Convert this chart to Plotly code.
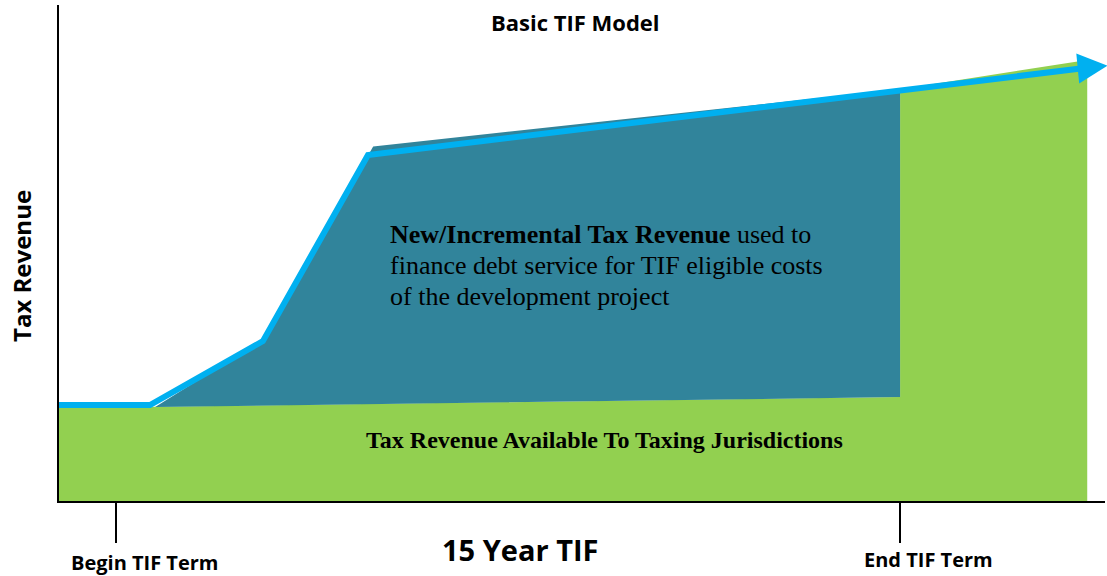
import plotly.graph_objects as go

# ---- data (x in years of TIF term, y in relative tax revenue units) ----
green_x = [-1.09, 15.0, 15.0, 18.58, 18.58, -1.09]
green_y = [19.8, 22.1, 87.6, 93.8, 0.0, 0.0]

teal_x = [0.75, 2.81, 4.92, 15.0, 15.0, 0.75]
teal_y = [20.0, 34.3, 75.4, 87.6, 22.1, 20.0]

line_x = [-1.09, 0.65, 2.81, 4.82, 18.69]
line_y = [20.4, 20.4, 34.0, 73.6, 92.3]

arrow_tip = (18.97, 92.6)

tick_years = [0, 15]
tick_names = ["Begin TIF Term", "End TIF Term"]

GREEN = "#92D050"
TEAL = "#31849B"
BLUE = "#00B0F0"
SANS = "Open Sans, Lato, sans-serif"
SERIF = "Liberation Serif, Times New Roman, serif"

fig = go.Figure()
fig.add_trace(go.Scatter(x=green_x, y=green_y, fill="toself", fillcolor=GREEN,
                         mode="lines", line=dict(width=0, color=GREEN),
                         hoverinfo="skip", showlegend=False))
fig.add_trace(go.Scatter(x=teal_x, y=teal_y, fill="toself", fillcolor=TEAL,
                         mode="lines", line=dict(width=0, color=TEAL),
                         hoverinfo="skip", showlegend=False))
fig.add_trace(go.Scatter(x=line_x, y=line_y, mode="lines",
                         line=dict(width=6, color=BLUE), cliponaxis=False,
                         hoverinfo="skip", showlegend=False))

fig.add_annotation(x=arrow_tip[0], y=arrow_tip[1], ax=line_x[-1], ay=line_y[-1],
                   xref="x", yref="y", axref="x", ayref="y", text="",
                   showarrow=True, arrowhead=2, arrowsize=1.0, arrowwidth=6,
                   arrowcolor=BLUE, standoff=0)


def px_x(px):
    return (px - 59) / 1046.0


def px_y(py):
    return (501 - py) / 496.0


def label(text, cx, cy, size, angle=0):
    fig.add_annotation(x=px_x(cx), y=px_y(cy), xref="paper", yref="paper",
                       xanchor="center", yanchor="middle", textangle=angle,
                       text="<b>" + text + "</b>", showarrow=False,
                       font=dict(family=SANS, size=size, color="black"))


label(tick_names[0], 145, 562, 20)
label(tick_names[1], 928, 559, 20)
label("15 Year TIF", 520, 549, 29)
label("Tax Revenue", 22, 266, 24, angle=-90)
label("Basic TIF Model", 575, 22, 22)

# body text
body_lines = ["<b>New/Incremental Tax Revenue</b> used to",
              "finance debt service for TIF eligible costs",
              "of the development project"]
for i, t in enumerate(body_lines):
    fig.add_annotation(x=px_x(388), y=px_y(234 + 31 * i), xref="paper", yref="paper",
                       text=t, showarrow=False, xanchor="left", yanchor="middle",
                       font=dict(family=SERIF, size=26, color="black"))

fig.add_annotation(x=px_x(604), y=px_y(440), xref="paper", yref="paper",
                   xanchor="center", yanchor="middle",
                   text="<b>Tax Revenue Available To Taxing Jurisdictions</b>",
                   showarrow=False,
                   font=dict(family=SERIF, size=24, color="black"))

fig.update_xaxes(range=[-1.09, 18.92], showline=True, linecolor="black", linewidth=2,
                 showgrid=False, zeroline=False, tickvals=tick_years, ticks="outside",
                 ticklen=40, tickwidth=2, tickcolor="black", showticklabels=False)
fig.update_yaxes(range=[0, 105.5], showline=True, linecolor="black", linewidth=2,
                 showgrid=False, zeroline=False, ticks="", showticklabels=False)

fig.update_layout(width=1107, height=576, margin=dict(l=59, r=2, t=5, b=75),
                  plot_bgcolor="white", paper_bgcolor="white")

fig.write_html("out.html")
